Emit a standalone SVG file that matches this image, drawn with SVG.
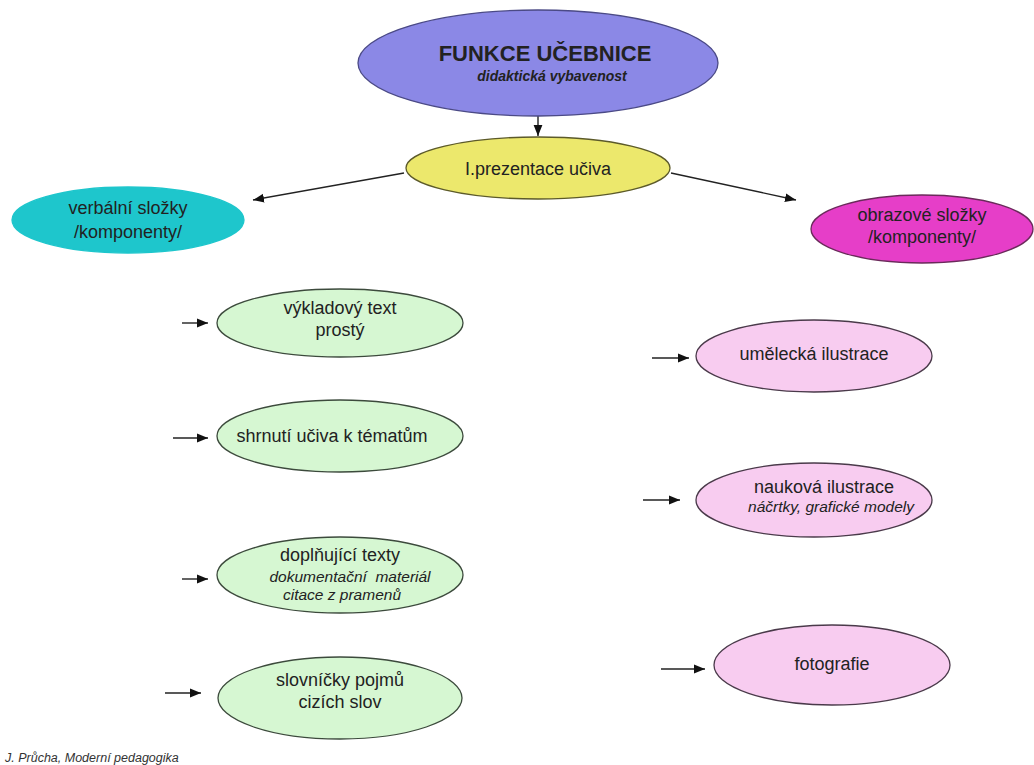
<svg xmlns="http://www.w3.org/2000/svg" width="1034" height="765" viewBox="0 0 1034 765">
<defs>
<marker id="ah" viewBox="0 0 10 10" refX="10" refY="5" markerWidth="11" markerHeight="11" markerUnits="userSpaceOnUse" orient="auto">
<path d="M0,1 L10,5 L0,9 Z" fill="#111"/>
</marker>
</defs>
<style>
text{font-family:"Liberation Sans",Arial,sans-serif;fill:#222;text-anchor:middle}
.t{font-size:18px}
.i{font-size:15.5px;font-style:italic}
.b{font-size:22px;font-weight:bold}
.bi{font-size:14px;font-weight:bold;font-style:italic}
.e{stroke-width:1.3}
.blue{fill:#8b88e6;stroke:#4b4a86}
.yel{fill:#ece86c;stroke:#5c5a2a}
.cyan{fill:#1ec6cc;stroke:#1ec6cc}
.mag{fill:#e63ec8;stroke:#6a2a5a}
.grn{fill:#d6f7d2;stroke:#3c4a3c}
.pnk{fill:#f8ccf0;stroke:#4a3a4a}
.c{stroke:#222;stroke-width:1.4;fill:none;marker-end:url(#ah)}
</style>
<rect width="1034" height="765" fill="#fff"/>
<g id="connectors">
<line class="c" x1="538" y1="111" x2="538" y2="136"/>
<line class="c" x1="404" y1="173" x2="253" y2="200"/>
<line class="c" x1="671" y1="173" x2="796" y2="200"/>
<line class="c" x1="182" y1="323" x2="208" y2="323"/>
<line class="c" x1="173" y1="438" x2="208" y2="438"/>
<line class="c" x1="182" y1="579" x2="208" y2="579"/>
<line class="c" x1="165" y1="693" x2="201" y2="693"/>
<line class="c" x1="652" y1="358" x2="689" y2="358"/>
<line class="c" x1="643" y1="500" x2="680" y2="500"/>
<line class="c" x1="661" y1="669" x2="705" y2="669"/>
</g>
<g id="n-funkce">
<ellipse class="e blue" cx="538" cy="63" rx="180" ry="53"/>
<text class="b" x="545" y="61">FUNKCE UČEBNICE</text>
<text class="bi" x="552" y="81">didaktická vybavenost</text>
</g>
<g id="n-prezentace">
<ellipse class="e yel" cx="538" cy="168" rx="132" ry="31"/>
<text class="t" x="538" y="175">I.prezentace učiva</text>
</g>
<g id="n-verbalni">
<ellipse class="e cyan" cx="128" cy="220" rx="116" ry="33"/>
<text class="t" x="128" y="214">verbální složky</text>
<text class="t" x="128" y="238">/komponenty/</text>
</g>
<g id="n-obrazove">
<ellipse class="e mag" cx="922" cy="229" rx="111" ry="34"/>
<text class="t" x="922" y="221">obrazové složky</text>
<text class="t" x="922" y="243">/komponenty/</text>
</g>
<g id="n-vykladovy">
<ellipse class="e grn" cx="340" cy="323" rx="123" ry="34"/>
<text class="t" x="340" y="314">výkladový text</text>
<text class="t" x="340" y="336">prostý</text>
</g>
<g id="n-shrnuti">
<ellipse class="e grn" cx="340" cy="436" rx="123" ry="36"/>
<text class="t" x="332" y="442">shrnutí učiva k tématům</text>
</g>
<g id="n-doplnujici">
<ellipse class="e grn" cx="340" cy="575" rx="123" ry="38"/>
<text class="t" x="340" y="561">doplňující texty</text>
<text class="i" x="350" y="582" xml:space="preserve">dokumentační  materiál</text>
<text class="i" x="342" y="600">citace z pramenů</text>
</g>
<g id="n-slovnicky">
<ellipse class="e grn" cx="340" cy="698" rx="122" ry="41"/>
<text class="t" x="340" y="686">slovníčky pojmů</text>
<text class="t" x="340" y="708">cizích slov</text>
</g>
<g id="n-umelecka">
<ellipse class="e pnk" cx="814" cy="356" rx="118" ry="36"/>
<text class="t" x="814" y="360">umělecká ilustrace</text>
</g>
<g id="n-naukova">
<ellipse class="e pnk" cx="814" cy="500" rx="118" ry="37"/>
<text class="t" x="824" y="493">nauková ilustrace</text>
<text class="i" x="831" y="512">náčrtky, grafické modely</text>
</g>
<g id="n-fotografie">
<ellipse class="e pnk" cx="832" cy="665" rx="118" ry="40"/>
<text class="t" x="832" y="670">fotografie</text>
</g>
<text x="5" y="762" style="font-size:12.5px;font-style:italic;text-anchor:start;fill:#333">J. Průcha, Moderní pedagogika</text>
</svg>
